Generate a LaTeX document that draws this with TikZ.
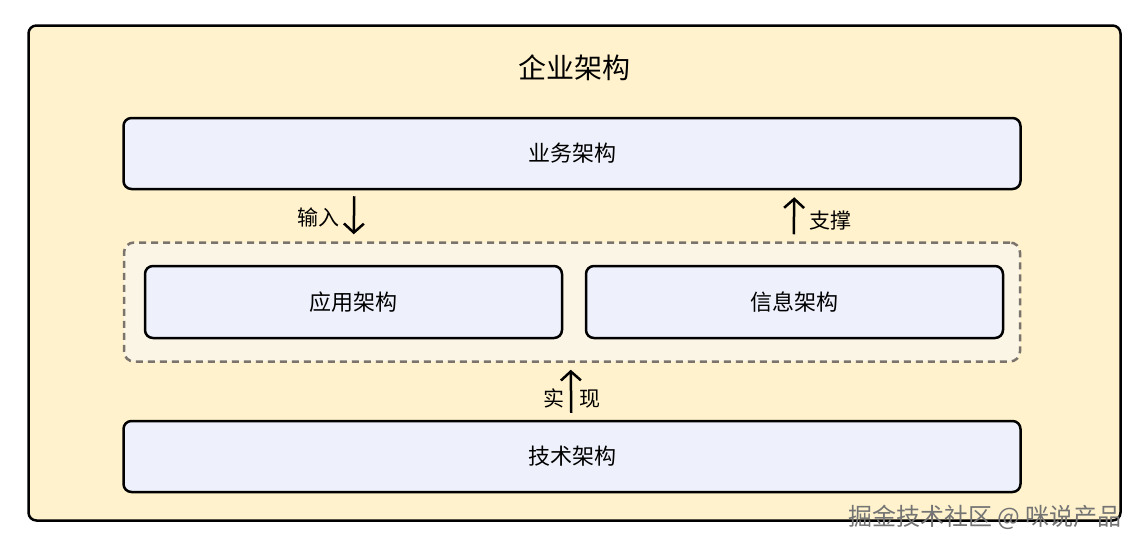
\documentclass[tikz,border=0pt]{standalone}
\usepackage{fontspec}
\newfontfamily\cjk{Noto Sans CJK SC}
\usetikzlibrary{positioning,arrows.meta}

\definecolor{bgyellow}{HTML}{FFF2CC}
\definecolor{boxblue}{HTML}{EEF1FB}
\definecolor{layerfill}{HTML}{FBF5E6}
\definecolor{dashgray}{HTML}{7A746C}
\definecolor{markgray}{HTML}{747474}

\tikzstyle{outerbox} = [rectangle, rounded corners=8pt, minimum width=1092pt, minimum height=495pt, draw = black, line width=2.5pt, fill = bgyellow]
\tikzstyle{widebox} = [rectangle, rounded corners=8pt, minimum width=897pt, minimum height=71pt, text centered, draw = black, line width=2.5pt, fill = boxblue, font=\cjk\fontsize{22}{26}\selectfont]
\tikzstyle{halfbox} = [widebox, minimum width=417pt, minimum height=72pt]
\tikzstyle{dashbox} = [rectangle, rounded corners=10pt, minimum width=896pt, minimum height=119pt, draw = dashgray, dash pattern=on 7pt off 5pt, line width=2.5pt, fill = layerfill]
\tikzstyle{lbl} = [font=\cjk\fontsize{21}{25}\selectfont]
\tikzstyle{arrow} = [-{Straight Barb[length=9pt,width=20pt]}, line width=2.5pt]

\begin{document}
\begin{tikzpicture}[x=1pt,y=-1pt]
	\useasboundingbox (0,0) rectangle (1145,549);
	\node (ent) [outerbox] at (574.5,273) {};
	\node (title) [lbl, font=\cjk\fontsize{28}{32}\selectfont] at (574,68) {企业架构};
	
	\node (biz) [widebox] at (572,153.5) {业务架构};
	\node (layer) [dashbox, below=51pt of biz] {};
	\node (appl) [halfbox, right=21pt of layer.west] {应用架构};
	\node (info) [halfbox, left=17pt of layer.east] {信息架构};
	\node (tech) [widebox, below=57pt of layer] {技术架构};
	
	\node (inlbl) [lbl] at (318,217) {输入};
	\node (suplbl) [lbl] at (830,221) {支撑};
	\node (implbl) [lbl] at (572,398) {实\hspace{15pt}现};
	
	\draw [arrow] ([xshift=232pt, yshift=-6pt]biz.south west) -- ([xshift=231pt, yshift=7pt]layer.north west);
	\draw [arrow] ([xshift=671pt, yshift=7pt]layer.north west) -- ([xshift=672pt, yshift=-7pt]biz.south west);
	\draw [arrow] ([xshift=449pt, yshift=7pt]tech.north west) -- ([xshift=448pt, yshift=-7pt]layer.south west);
	
	\node (mark) [lbl, text=markgray, font=\cjk\fontsize{24}{28}\selectfont] at (985,517) {掘金技术社区 @ 咪说产品};
\end{tikzpicture}
\end{document}
